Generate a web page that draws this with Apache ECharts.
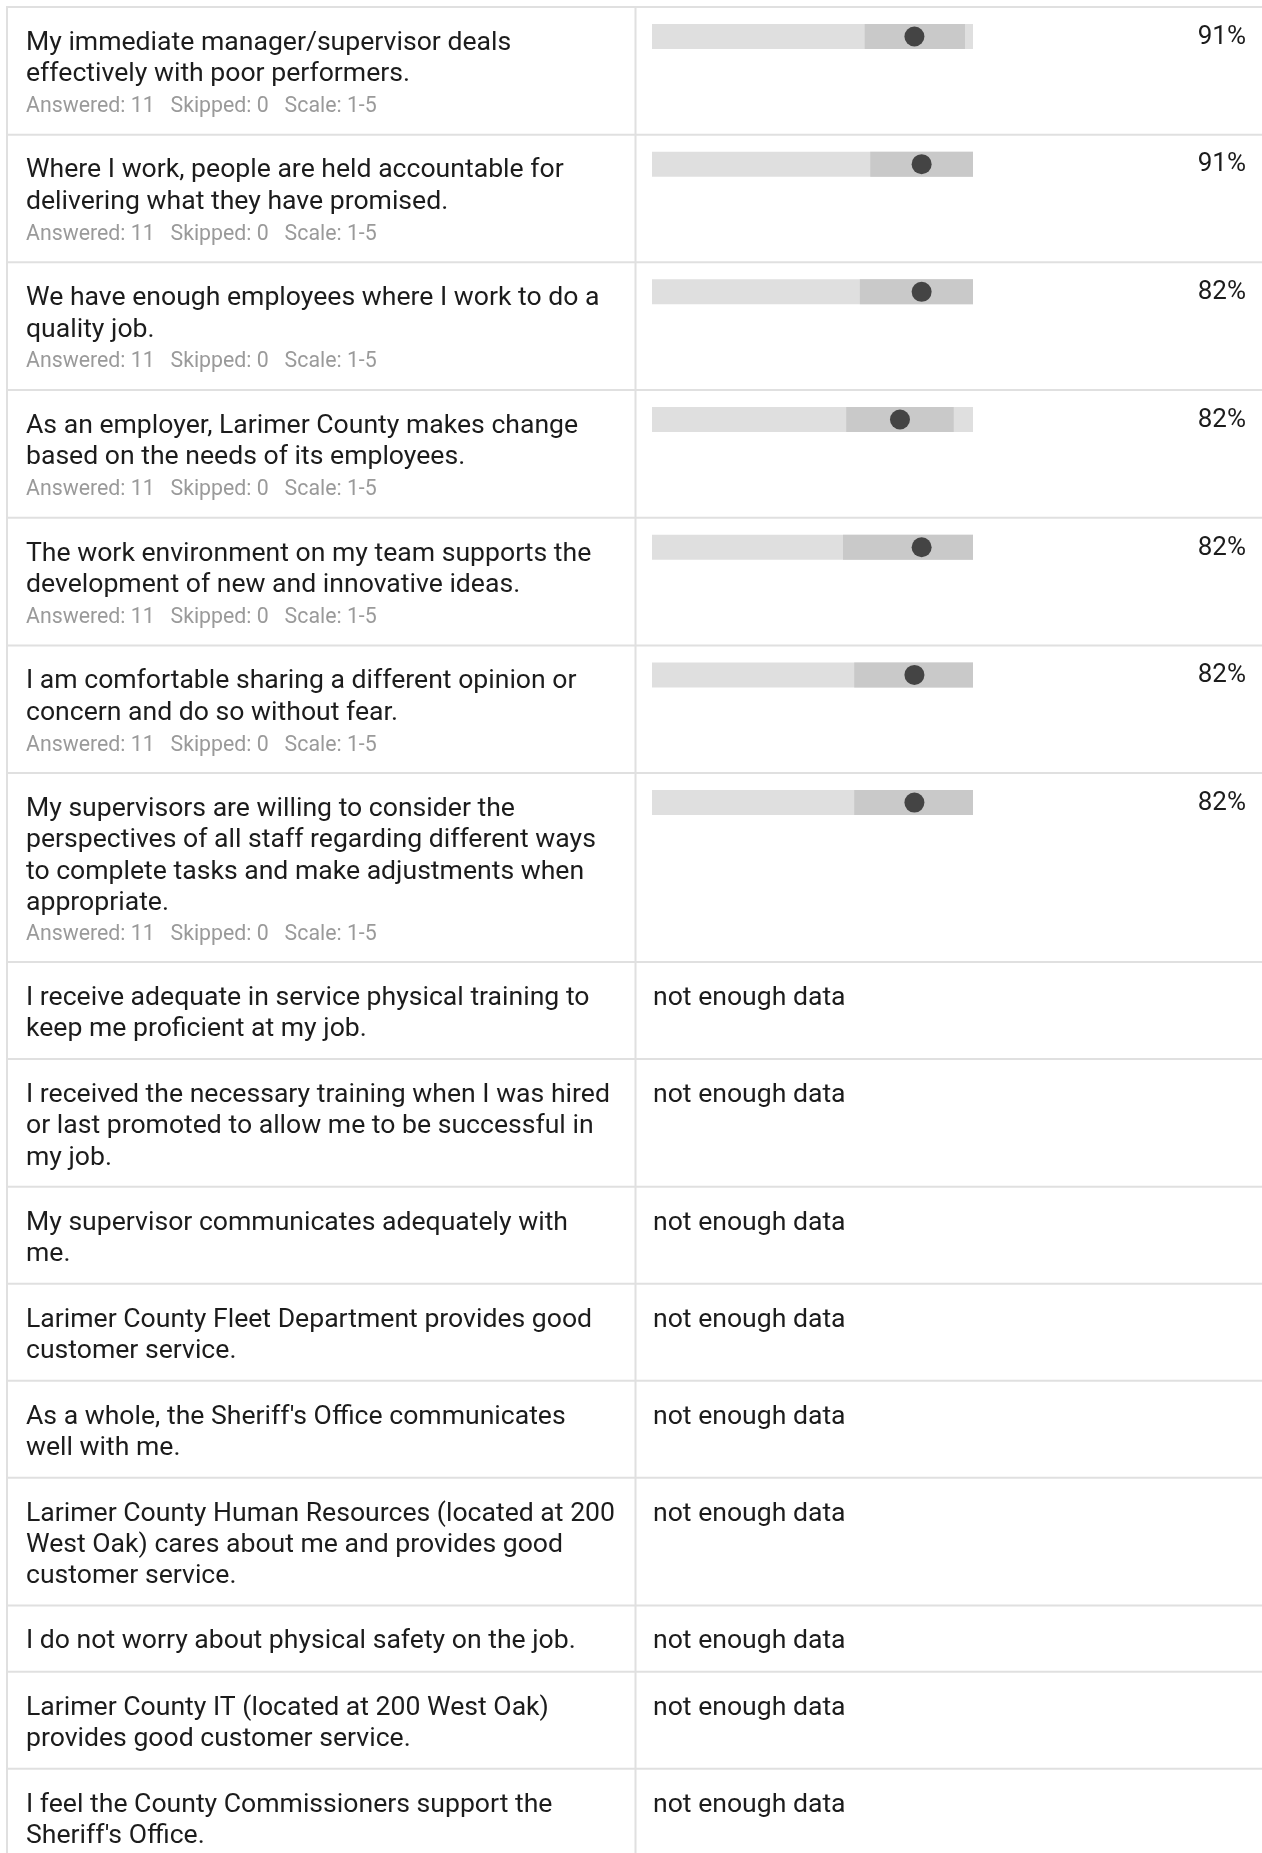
<!DOCTYPE html>
<html>
<head>
<meta charset="utf-8">
<script src="https://cdn.jsdelivr.net/npm/echarts@6/dist/echarts.min.js"></script>
<style>
html,body{margin:0;padding:0;background:#ffffff;}
#chart{width:1262px;height:1853px;}
</style>
</head>
<body>
<div id="chart"></div>
<script>
// ---------------- DATA ----------------
const questions = [
  "My immediate manager/supervisor deals\neffectively with poor performers.",
  "Where I work, people are held accountable for\ndelivering what they have promised.",
  "We have enough employees where I work to do a\nquality job.",
  "As an employer, Larimer County makes change\nbased on the needs of its employees.",
  "The work environment on my team supports the\ndevelopment of new and innovative ideas.",
  "I am comfortable sharing a different opinion or\nconcern and do so without fear.",
  "My supervisors are willing to consider the\nperspectives of all staff regarding different ways\nto complete tasks and make adjustments when\nappropriate.",
  "I receive adequate in service physical training to\nkeep me proficient at my job.",
  "I received the necessary training when I was hired\nor last promoted to allow me to be successful in\nmy job.",
  "My supervisor communicates adequately with\nme.",
  "Larimer County Fleet Department provides good\ncustomer service.",
  "As a whole, the Sheriff's Office communicates\nwell with me.",
  "Larimer County Human Resources (located at 200\nWest Oak) cares about me and provides good\ncustomer service.",
  "I do not worry about physical safety on the job.",
  "Larimer County IT (located at 200 West Oak)\nprovides good customer service.",
  "I feel the County Commissioners support the\nSheriff's Office."
];
const answered   = [11, 11, 11, 11, 11, 11, 11, null, null, null, null, null, null, null, null, null];
const skipped    = [0, 0, 0, 0, 0, 0, 0, null, null, null, null, null, null, null, null, null];
const scaleLabel = ["1-5", "1-5", "1-5", "1-5", "1-5", "1-5", "1-5", null, null, null, null, null, null, null, null, null];
const favorable  = [91, 91, 82, 82, 82, 82, 82, null, null, null, null, null, null, null, null, null];
const means      = [4.27, 4.36, 4.36, 4.09, 4.36, 4.27, 4.27, null, null, null, null, null, null, null, null, null];
const rangeLow   = [3.65, 3.72, 3.59, 3.42, 3.38, 3.52, 3.52, null, null, null, null, null, null, null, null, null];
const rangeHigh  = [4.90, 5.00, 5.00, 4.76, 5.00, 5.00, 5.00, null, null, null, null, null, null, null, null, null];
const scaleMin = 1;
const scaleMax = 5;
const noDataText = "not enough data";

// ---------------- LAYOUT ----------------
const W = 1262, H = 1853;
const TABLE_TOP = 7, TABLE_LEFT = 7, DIVIDER_X = 635.5;
const ROW_BASE = 35.67, LINE_H = 30.67, TEXT_LH = 31.4;
const TEXT_X = 26, CELL2_X = 653;
const BAR_LEFT = 652, BAR_W = 321, BAR_OFF = 17, BAR_H = 25;
const FONT = 'Roboto, "Noto Sans", sans-serif';
const BORDER = '#e0e0e0';
const MAIN_SIZE = 26.6, META_SIZE = 21.3;

const rows = [];
let yCur = TABLE_TOP;
questions.forEach((q, i) => {
  const nLines = q.split('\n').length;
  const hasMeta = answered[i] != null;
  const h = ROW_BASE + LINE_H * (nLines + (hasMeta ? 1 : 0));
  rows.push({ top: yCur, h: h, nLines: nLines, hasMeta: hasMeta });
  yCur += h;
});

const graphics = [];
// horizontal borders
const boundaries = [TABLE_TOP].concat(rows.map(r => r.top + r.h));
boundaries.forEach(by => {
  graphics.push({
    type: 'line', silent: true,
    shape: { x1: TABLE_LEFT - 1, y1: by, x2: W, y2: by },
    style: { stroke: BORDER, lineWidth: 2 }
  });
});
// vertical borders
[TABLE_LEFT, DIVIDER_X].forEach(vx => {
  graphics.push({
    type: 'line', silent: true,
    shape: { x1: vx, y1: TABLE_TOP - 1, x2: vx, y2: H },
    style: { stroke: BORDER, lineWidth: 2 }
  });
});

rows.forEach((r, i) => {
  // question text
  graphics.push({
    type: 'text', silent: true,
    x: TEXT_X, y: r.top + 36.13 - TEXT_LH / 2,
    style: {
      text: questions[i], fill: '#1c1c1c',
      font: MAIN_SIZE + 'px ' + FONT, lineHeight: TEXT_LH,
      align: 'left', verticalAlign: 'top'
    }
  });
  if (r.hasMeta) {
    graphics.push({
      type: 'text', silent: true,
      x: TEXT_X, y: r.top + 37.9 + r.nLines * 30.95,
      style: {
        text: 'Answered: ' + answered[i] + '   Skipped: ' + skipped[i] + '   Scale: ' + scaleLabel[i],
        fill: '#9a9a9a', font: META_SIZE + 'px ' + FONT,
        align: 'left', verticalAlign: 'middle'
      }
    });
  }
  if (favorable[i] != null) {
    graphics.push({
      type: 'text', silent: true,
      x: 1246, y: r.top + 30.3,
      style: {
        text: favorable[i] + '%', fill: '#1c1c1c', font: '26px ' + FONT,
        align: 'right', verticalAlign: 'middle'
      }
    });
  } else {
    graphics.push({
      type: 'text', silent: true,
      x: CELL2_X, y: r.top + 36.1,
      style: {
        text: noDataText, fill: '#1c1c1c', font: MAIN_SIZE + 'px ' + FONT,
        align: 'left', verticalAlign: 'middle'
      }
    });
  }
});

// ---------------- GRIDS / SERIES ----------------
const grid = [], xAxis = [], yAxis = [], series = [];
let g = 0;
rows.forEach((r, i) => {
  if (means[i] == null) return;
  grid.push({ left: BAR_LEFT, top: r.top + BAR_OFF, width: BAR_W, height: BAR_H, containLabel: false });
  xAxis.push({ gridIndex: g, type: 'value', min: scaleMin, max: scaleMax, show: false });
  yAxis.push({ gridIndex: g, type: 'category', data: [''], show: false });
  series.push({
    type: 'bar', xAxisIndex: g, yAxisIndex: g, stack: 'r' + g, silent: true,
    barWidth: '100%', data: [rangeLow[i]],
    itemStyle: { color: 'rgba(0,0,0,0)' },
    showBackground: true, backgroundStyle: { color: '#dfdfdf' }
  });
  series.push({
    type: 'bar', xAxisIndex: g, yAxisIndex: g, stack: 'r' + g, silent: true,
    barWidth: '100%', data: [rangeHigh[i] - rangeLow[i]],
    itemStyle: { color: '#c9c9c9' }
  });
  series.push({
    type: 'scatter', xAxisIndex: g, yAxisIndex: g, silent: true, z: 5,
    symbol: 'circle', symbolSize: 20,
    data: [[means[i], 0]],
    itemStyle: { color: '#444444', opacity: 1 }
  });
  g++;
});

const chart = echarts.init(document.getElementById('chart'), null, { renderer: 'canvas' });
chart.setOption({
  backgroundColor: '#ffffff',
  animation: false,
  grid: grid, xAxis: xAxis, yAxis: yAxis, series: series,
  graphic: { elements: graphics }
});
</script>
</body>
</html>
